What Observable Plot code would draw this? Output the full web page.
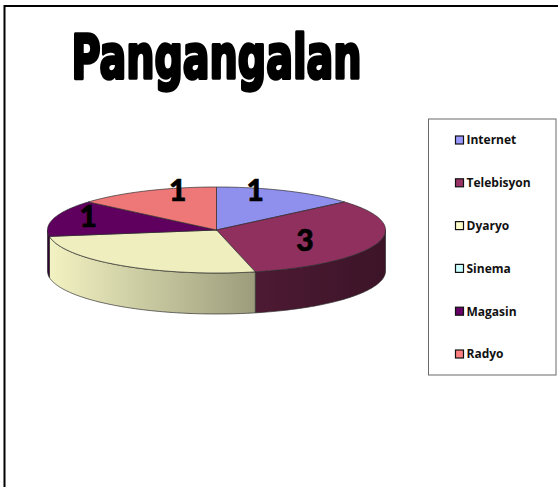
<!DOCTYPE html>
<html><head><meta charset="utf-8">
<script src="https://cdn.jsdelivr.net/npm/d3@7"></script>
<script src="https://cdn.jsdelivr.net/npm/@observablehq/plot@0.6"></script>
<style>html,body{margin:0;padding:0;background:#fff;overflow:hidden}</style>
</head><body><div id="chart"></div>
<script>
// ---- data ----
const title = "Pangangalan";
const categories = ["Internet", "Telebisyon", "Dyaryo", "Sinema", "Magasin", "Radyo"];
const values = [1.3, 3.1, 2.5, 0, 1.3, 1.3];           // slice sizes as drawn
const valueLabels = ["1", "3", "", "", "1", "1"];        // data labels shown on the pie
const palette = ["#9999FF", "#993366", "#FFFFCC", "#CCFFFF", "#660066", "#FF8080"];

// ---- layout ----
const W = 558, H = 487;
const cx = 216, cy = 229.5, rx = 169, ry = 43, depth = 41;
const rad = d => d * Math.PI / 180;
const P = (deg, dz = 0) => ({x: cx + rx * Math.sin(rad(deg)), y: cy - ry * Math.cos(rad(deg)) + dz});
function arc(a0, a1, dz = 0) {
  const n = Math.max(2, Math.ceil(Math.abs(a1 - a0)));
  const pts = [];
  for (let k = 0; k <= n; k++) pts.push(P(a0 + (a1 - a0) * k / n, dz));
  return pts;
}
const total = d3.sum(values);
let acc = 0;
const slices = categories.map((c, i) => {
  const a0 = acc / total * 360; acc += values[i]; const a1 = acc / total * 360;
  return {c, i, a0, a1, mid: (a0 + a1) / 2, v: values[i], label: valueLabels[i]};
}).filter(s => s.v > 0);

const shade = (col, k) => { const c = d3.rgb(col); return d3.rgb(c.r * k, c.g * k, c.b * k).formatHex(); };
const sideShade = {1: [0.50, 0.39], 2: [0.95, 0.61], 4: [0.55, 0.5]};
// label radius: pushed outward where the slice is thin vertically (left side), as in the reference
const labelK = s => 0.55 + (Math.sin(rad(s.mid)) < -0.9 ? 0.24 : 0);

const marks = [];
// outer chart border
marks.push(Plot.rect([0], {x1: 4.5, x2: W + 20, y1: 6, y2: H + 20, fill: "white", stroke: "black", strokeWidth: 2}));
// side walls (front half only)
const sides = [];
for (const s of slices) {
  const a = Math.max(s.a0, 90), b = Math.min(s.a1, 270);
  if (a >= b) continue;
  const pts = arc(a, b).concat(arc(b, a, depth));
  pts.push(pts[0]);
  const xs = pts.map(p => p.x);
  sides.push({s, pts, x0: d3.min(xs), x1: d3.max(xs)});
  marks.push(Plot.line(pts, {x: "x", y: "y", fill: `url(#side${s.i})`, stroke: "#2a2a2a", strokeWidth: 0.8, strokeOpacity: 0.85, strokeLinejoin: "round"}));
}
// top faces
for (const s of slices) {
  const pts = [{x: cx, y: cy}, ...arc(s.a0, s.a1), {x: cx, y: cy}];
  marks.push(Plot.line(pts, {x: "x", y: "y", fill: shade(palette[s.i], 0.935), stroke: "#2a2a2a", strokeWidth: 0.8, strokeOpacity: 0.85, strokeLinejoin: "round"}));
}
// data labels
marks.push(Plot.text(slices.filter(s => s.label), {
  x: s => cx + labelK(s) * rx * Math.sin(rad(s.mid)),
  y: s => cy - 0.95 * ry * Math.cos(rad(s.mid)) - 1,
  text: "label", fontSize: 30, fontWeight: 900, fontFamily: "Lato, 'Open Sans', sans-serif", fill: "black",
  stroke: "black", strokeWidth: 0.6
}));
// legend
const ly = i => 140 + i * 42.8;
marks.push(Plot.rect([0], {x1: 428.5, x2: 556, y1: 119, y2: 375, fill: "white", stroke: "#6a6a6a", strokeWidth: 1}));
marks.push(Plot.rect(categories, {x1: 455.5, x2: 463.5, y1: (d, i) => ly(i) - 4, y2: (d, i) => ly(i) + 4, fill: (d, i) => palette[i], stroke: "#111", strokeWidth: 1.2}));
marks.push(Plot.text(categories, {x: 466, y: (d, i) => ly(i), text: d => d, textAnchor: "start", fontSize: 12, fontWeight: "bold", fontFamily: "'Open Sans', Lato, sans-serif", fill: "#111"}));
// title
marks.push(Plot.text([title], {x: cx, y: 58, text: d => d, fontSize: 60, fontWeight: "bold", fontFamily: "'DejaVu Sans', sans-serif", fill: "black", stroke: "black", strokeWidth: 3.5, strokeLinejoin: "round", className: "ttl"}));

const chart = Plot.plot({
  width: W, height: H, margin: 0,
  x: {type: "linear", domain: [0, W], range: [0, W], axis: null},
  y: {type: "linear", domain: [0, H], range: [0, H], axis: null},
  style: {background: "white"},
  marks
});
// condense the title to the reference's width
chart.querySelectorAll("g.ttl text").forEach(t => {
  t.setAttribute("textLength", 290);
  t.setAttribute("lengthAdjust", "spacingAndGlyphs");
});
// gradients for the side walls
const ns = "http://www.w3.org/2000/svg";
const defs = document.createElementNS(ns, "defs");
for (const sd of sides) {
  const g = document.createElementNS(ns, "linearGradient");
  g.setAttribute("id", `side${sd.s.i}`);
  g.setAttribute("gradientUnits", "userSpaceOnUse");
  g.setAttribute("x1", sd.x0); g.setAttribute("x2", sd.x1);
  g.setAttribute("y1", 0); g.setAttribute("y2", 0);
  const [k0, k1] = sideShade[sd.s.i] || [0.8, 0.6];
  [[0, k0], [1, k1]].forEach(([o, k]) => {
    const st = document.createElementNS(ns, "stop");
    st.setAttribute("offset", o);
    st.setAttribute("stop-color", shade(palette[sd.s.i], k));
    g.appendChild(st);
  });
  defs.appendChild(g);
}
chart.prepend(defs);
document.getElementById("chart").appendChild(chart);
</script>
</body></html>
